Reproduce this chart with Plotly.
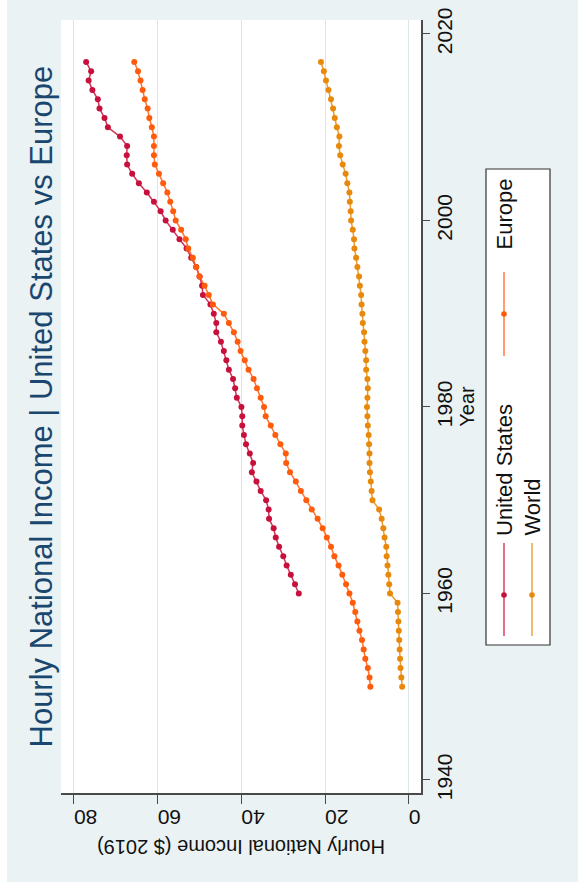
import plotly.graph_objects as go

# ---------------- data ----------------
us_years = list(range(1960, 2018))
us_income = [26.3, 27.2, 28.2, 29.2, 30.0, 31.0, 31.8, 32.3, 33.4, 33.5,
             34.1, 35.4, 36.4, 37.5, 37.2, 38.0, 38.9, 39.4, 39.8, 39.8,
             40.0, 41.1, 41.5, 42.0, 43.0, 43.6, 44.2, 44.9, 46.0, 46.0,
             46.6, 47.4, 49.2, 49.4, 50.0, 50.8, 52.0, 53.1, 54.8, 56.4,
             58.1, 59.3, 60.9, 62.6, 64.5, 66.1, 67.3, 67.4, 67.3, 69.0,
             71.9, 72.7, 73.9, 74.3, 75.6, 76.5, 75.9, 77.1]

eu_years = list(range(1950, 2018))
eu_income = [9.2, 9.4, 9.8, 10.4, 10.8, 11.2, 11.8, 12.3, 12.8, 13.4,
             14.2, 15.0, 15.9, 16.8, 17.8, 18.6, 19.6, 20.6, 21.8, 23.2,
             24.5, 25.8, 27.0, 28.4, 29.3, 29.4, 30.7, 31.9, 33.0, 34.2,
             34.6, 35.4, 36.3, 37.1, 38.3, 39.2, 40.2, 40.9, 41.8, 43.0,
             44.2, 46.8, 47.8, 48.8, 50.0, 50.8, 51.6, 52.7, 53.3, 54.4,
             55.7, 56.3, 57.0, 57.7, 58.7, 59.7, 60.7, 60.9, 60.9, 60.9,
             61.4, 62.0, 62.4, 63.1, 63.6, 64.1, 64.7, 65.6]

world_years = list(range(1950, 2018))
world_income = [1.6, 1.8, 2.0, 2.1, 2.2, 2.3, 2.4, 2.5, 2.6, 2.7,
                4.5, 4.7, 4.9, 5.1, 5.3, 5.4, 5.8, 6.1, 6.5, 7.1,
                8.7, 8.9, 9.1, 9.3, 9.4, 9.4, 9.5, 9.6, 9.8, 9.9,
                10.0, 9.9, 9.8, 9.9, 10.2, 10.2, 10.4, 10.6, 10.7, 11.0,
                11.1, 11.3, 11.4, 11.7, 11.9, 12.3, 12.6, 13.0, 13.1, 13.4,
                13.8, 13.9, 14.1, 14.2, 14.7, 15.1, 15.8, 16.4, 16.7, 16.6,
                17.2, 17.7, 18.1, 18.6, 19.2, 19.8, 20.3, 21.0]

income_ticks = [0, 20, 40, 60, 80]
year_ticks = [1940, 1960, 1980, 2000, 2020]

series_names = ["United States", "Europe", "World"]
title_text = "Hourly National Income | United States vs Europe"
x_title = "Hourly National Income ($ 2019)"
y_title = "Year"

# ---------------- styling ----------------
W, H = 578, 884
ML, MR, MT, MB = 61, 157, 20, 91
PW, PH = W - ML - MR, H - MT - MB
FONT = "Liberation Sans, Arial, Helvetica, sans-serif"
BG = "#EAF2F3"
GRID = "#DCE6E8"
AXIS = "#4a4a4a"
TITLE_C = "#1A476F"
colors = {"United States": "#C8103C", "Europe": "#FF5B0D", "World": "#E8890C"}
line_rgba = {"United States": "rgba(200,16,60,0.85)",
             "Europe": "rgba(255,91,13,0.85)",
             "World": "rgba(232,137,12,0.85)"}


def px(X):
    return (X - ML) / PW


def py(Y):
    return (MT + PH - Y) / PH


fig = go.Figure()
for name, xs, ys in [("United States", us_income, us_years),
                     ("Europe", eu_income, eu_years),
                     ("World", world_income, world_years)]:
    fig.add_trace(go.Scatter(
        x=xs, y=ys, mode="lines+markers", name=name, showlegend=False,
        line=dict(color=line_rgba[name], width=1.5),
        marker=dict(color=colors[name], size=6, line=dict(width=0)),
    ))

fig.update_layout(
    width=W, height=H,
    margin=dict(l=ML, r=MR, t=MT, b=MB, pad=0, autoexpand=False),
    paper_bgcolor=BG, plot_bgcolor="white",
    font=dict(family=FONT, color="#111"),
    showlegend=False,
    xaxis=dict(
        range=[83.1, -2.9], tickvals=income_ticks,
        ticktext=[str(v) for v in income_ticks],
        tickangle=180, tickfont=dict(size=21, color="#111"),
        ticks="outside", ticklen=9, tickcolor=AXIS, tickwidth=1.3,
        ticklabelstandoff=2,
        showgrid=True, gridcolor=GRID, gridwidth=1.3,
        zeroline=False, showline=True, linecolor=AXIS, linewidth=1.5,
        side="bottom", automargin=False,
    ),
    yaxis=dict(
        range=[1938.6, 2021.5], tickvals=year_ticks,
        ticktext=[str(v) for v in year_ticks],
        tickangle=-90, tickfont=dict(size=21, color="#111"),
        ticks="outside", ticklen=7, tickcolor=AXIS, tickwidth=1.3,
        ticklabelstandoff=-3,
        showgrid=False, zeroline=False, showline=True,
        linecolor=AXIS, linewidth=1.5, side="right", automargin=False,
        title=dict(text=y_title, font=dict(size=20, color="#111"), standoff=0),
    ),
)

shapes = []
# white strips around the graph region (left and bottom)
shapes.append(dict(type="rect", xref="paper", yref="paper",
                   x0=px(0), x1=px(7), y0=py(0), y1=py(H),
                   fillcolor="white", line=dict(width=0), layer="below"))
shapes.append(dict(type="rect", xref="paper", yref="paper",
                   x0=px(0), x1=px(W), y0=py(882), y1=py(H),
                   fillcolor="white", line=dict(width=0), layer="below"))
# legend box
shapes.append(dict(type="rect", xref="paper", yref="paper",
                   x0=px(486), x1=px(550), y0=py(645), y1=py(169),
                   fillcolor="white", line=dict(color="#333", width=1.2)))

legend_items = [
    ("Europe", 504, 272, 356, 314, 252),
    ("United States", 504, 543, 636, 595, 538),
    ("World", 532, 543, 636, 595, 538),
]
annotations = []
for name, lx, y_top, y_bot, ym, text_bottom in legend_items:
    shapes.append(dict(type="line", xref="paper", yref="paper",
                       x0=px(lx), x1=px(lx), y0=py(y_top), y1=py(y_bot),
                       line=dict(color=line_rgba[name], width=1.4)))
    r = 2.8
    shapes.append(dict(type="circle", xref="paper", yref="paper",
                       x0=px(lx - r), x1=px(lx + r), y0=py(ym + r), y1=py(ym - r),
                       fillcolor=colors[name], line=dict(width=0)))
    annotations.append(dict(
        text=name, xref="paper", yref="paper", x=px(lx), y=py(text_bottom),
        xanchor="center", yanchor="bottom", textangle=-90, showarrow=False,
        font=dict(size=22, color="#111", family=FONT)))

# title (rotated)
annotations.append(dict(
    text=title_text, xref="paper", yref="paper", x=px(40.5), y=py(407),
    xanchor="center", yanchor="middle", textangle=-90, showarrow=False,
    font=dict(size=31, color=TITLE_C, family=FONT)))
# x axis title (upside down)
annotations.append(dict(
    text=x_title, xref="paper", yref="paper", x=0.5, y=py(847),
    xanchor="center", yanchor="middle", textangle=180, showarrow=False,
    font=dict(size=20, color="#111", family=FONT)))

fig.update_layout(shapes=shapes, annotations=annotations)
fig.write_html(
    "out.html",
    config={"displayModeBar": False},
    post_script="document.body.style.margin='0';document.body.style.padding='0';"
                "document.body.style.overflow='hidden';",
)
